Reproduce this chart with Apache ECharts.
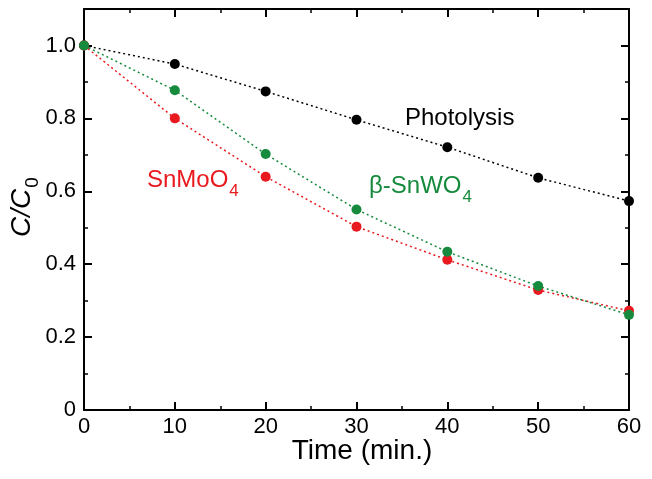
<!DOCTYPE html>
<html><head><meta charset="utf-8">
<script src="https://cdn.jsdelivr.net/npm/echarts@6/dist/echarts.min.js"></script>
<style>html,body{margin:0;padding:0;background:#fff}#c{width:652px;height:479px}</style>
</head><body><div id="c"></div>
<script>
const times = [0, 10, 20, 30, 40, 50, 60];
const photolysis = [1.0, 0.949, 0.874, 0.796, 0.721, 0.637, 0.573];
const snmoo4 = [1.0, 0.800, 0.640, 0.503, 0.412, 0.329, 0.272];
const snwo4 = [1.0, 0.877, 0.702, 0.550, 0.434, 0.340, 0.261];
const xTicks = [0, 10, 20, 30, 40, 50, 60];
const yTicks = [0, 0.2, 0.4, 0.6, 0.8, 1.0];

const FONT = 'Liberation Sans, Arial, sans-serif';
const RED = '#e8191f', GREEN = '#168a3d', BLACK = '#000';
const chart = echarts.init(document.getElementById('c'));
const pts = arr => times.map((t, i) => [t, arr[i]]);
const axisCommon = {
  axisLine: {show: true, onZero: false, lineStyle: {color: '#000', width: 2}},
  axisTick: {show: true, inside: true, length: 8, lineStyle: {color: '#000', width: 2}},
  minorTick: {show: true, splitNumber: 2, length: 4, lineStyle: {color: '#000', width: 1.5}},
  splitLine: {show: false}
};
function mkSeries(name, arr, color) {
  return {
    name, type: 'line', data: pts(arr), symbol: 'circle', symbolSize: 10,
    itemStyle: {color}, lineStyle: {color, width: 1.5, type: [2, 3]}, z: 3
  };
}
chart.setOption({
  animation: false,
  grid: {left: 84, right: 23, top: 9, bottom: 69},
  xAxis: [
    Object.assign({type: 'value', min: 0, max: 60, interval: 10, position: 'bottom',
      axisLabel: {color: '#000', fontSize: 22, fontFamily: FONT, margin: 6,
        formatter: v => xTicks.includes(v) ? String(v) : ''}}, axisCommon),
    Object.assign({type: 'value', min: 0, max: 60, interval: 10, position: 'top',
      axisLabel: {show: false}}, axisCommon)
  ],
  yAxis: [
    Object.assign({type: 'value', min: 0, max: 1.1, interval: 0.2, position: 'left',
      axisLabel: {color: '#000', fontSize: 22, fontFamily: FONT, margin: 8,
        formatter: v => { const t = yTicks.find(y => Math.abs(y - v) < 1e-6); return t === undefined ? '' : (t === 0 ? '0' : t.toFixed(1)); }}}, axisCommon),
    Object.assign({type: 'value', min: 0, max: 1.1, interval: 0.2, position: 'right',
      axisLabel: {show: false}}, axisCommon)
  ],
  series: [
    mkSeries('Photolysis', photolysis, BLACK),
    mkSeries('SnMoO4', snmoo4, RED),
    mkSeries('β-SnWO4', snwo4, GREEN)
  ],
  graphic: [
    {type: 'text', left: 405, top: 106, style: {text: 'Photolysis', fill: BLACK, font: '24px ' + FONT}},
    {type: 'text', left: 147, top: 168, style: {
      text: '{m|SnMoO}{s|4}', rich: {
        m: {fill: RED, fontSize: 24, fontFamily: FONT},
        s: {fill: RED, fontSize: 17, fontFamily: FONT, padding: [22, 0, 0, 1]}}}},
    {type: 'text', left: 369, top: 174, style: {
      text: '{m|β-SnWO}{s|4}', rich: {
        m: {fill: GREEN, fontSize: 24, fontFamily: FONT},
        s: {fill: GREEN, fontSize: 17, fontFamily: FONT, padding: [22, 0, 0, 1]}}}},
    {type: 'text', x: 362, y: 451, style: {text: 'Time (min.)', fill: '#000', font: '28px ' + FONT, align: 'center', verticalAlign: 'middle'}},
    {type: 'text', x: 22, y: 207, rotation: Math.PI / 2, style: {
      text: '{i|C/C}{s|0}', align: 'center', verticalAlign: 'middle', rich: {
        i: {fill: '#000', fontSize: 28, fontFamily: FONT, fontStyle: 'italic'},
        s: {fill: '#000', fontSize: 19, fontFamily: FONT, padding: [22, 0, 0, 1]}}}}
  ]
});
</script></body></html>
